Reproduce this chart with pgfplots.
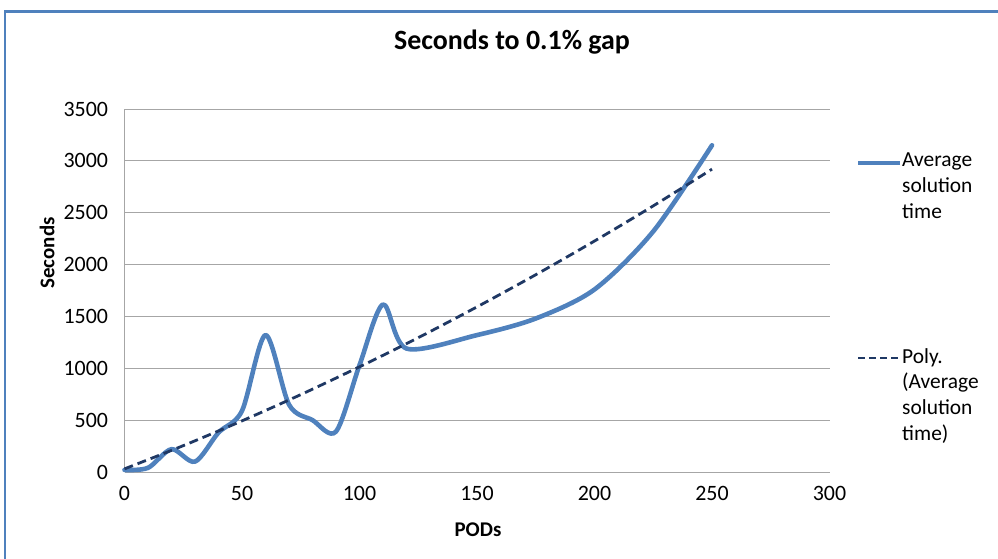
\documentclass[border=0pt]{standalone}
\usepackage{pgfplots}
\pgfplotsset{compat=1.18}
\usepackage{fontspec}
\setmainfont{Carlito}
\definecolor{serblue}{HTML}{4F81BD}
\definecolor{trend}{HTML}{1F3864}
\definecolor{gridc}{HTML}{A6A6A6}
\definecolor{frame}{HTML}{4F81BD}
\begin{document}
\begin{tikzpicture}[x=1bp,y=1bp]
\useasboundingbox (0,0) rectangle (998,559);
\draw[frame, line width=2.4bp] (5,0) -- (5,547.5) -- (998,547.5);
\begin{axis}[
  at={(124.5bp,87bp)}, anchor=south west,
  scale only axis, width=705bp, height=363bp,
  xmin=0, xmax=300, ymin=0, ymax=3500,
  xtick={0,50,...,300}, ytick={0,500,...,3500},
  axis x line*=bottom, axis y line*=left,
  axis line style={gridc, line width=0.8bp},
  x axis line style={-}, y axis line style={-},
  ymajorgrids, grid style={gridc, line width=0.8bp},
  major tick length=0pt,
  tick label style={font=\fontsize{22}{26}\selectfont, text=black},
  /pgf/number format/assume math mode=true,
  /pgf/number format/1000 sep={},
  yticklabel style={xshift=-13bp},
  xticklabel style={yshift=-11bp},
  clip=false,
]
\addplot[serblue, line width=4.6bp, smooth, tension=0.5, line cap=round, line join=round] coordinates {
(0,20) (10,40) (20,220) (30,100) (40,380) (50,590) (60,1320) (70,650) (80,500) (90,390) (100,1030) (110,1615) (120,1190) (150,1320) (175,1480) (200,1760) (225,2320) (250,3150)
};
\addplot[trend, line width=2.8bp, dash pattern=on 9bp off 5bp, smooth] coordinates {
(0,30) (25,254) (50,493) (75,746) (100,1014) (125,1295) (150,1592) (175,1902) (200,2227) (225,2566) (250,2920)
};
\end{axis}
\node[font=\fontsize{28}{33}\selectfont\bfseries] at (512,517) {Seconds to 0.1\% gap};
\node[font=\fontsize{21}{25}\selectfont\bfseries, rotate=90] at (47,306) {Seconds};
\node[font=\fontsize{21}{25}\selectfont\bfseries] at (478,29) {PODs};
% legend
\draw[serblue, line width=4.6bp] (858,396) -- (900,396);
\node[anchor=north west, align=left, inner sep=0pt, font=\fontsize{21.5}{26}\selectfont] at (902,406) {Average\\solution\\time};
\draw[trend, line width=2.8bp, dash pattern=on 7bp off 4bp] (858,201) -- (898,201);
\node[anchor=north west, align=left, inner sep=0pt, font=\fontsize{21.5}{26}\selectfont] at (902,211) {Poly.\\(Average\\solution\\time)};
\end{tikzpicture}
\end{document}
